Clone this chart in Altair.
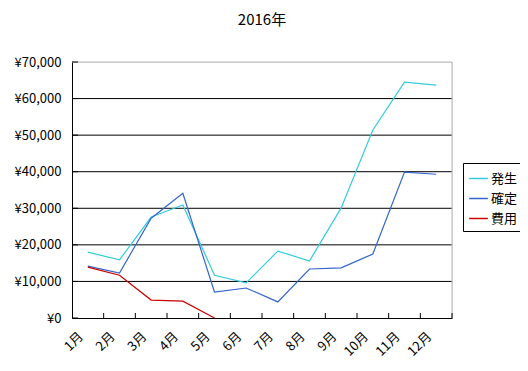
import altair as alt
import pandas as pd

months = ["1月", "2月", "3月", "4月", "5月", "6月", "7月", "8月", "9月", "10月", "11月", "12月"]
series_names = ["発生", "確定", "費用"]
hassei = [18000, 15900, 27600, 30900, 11700, 9600, 18300, 15600, 30100, 51400, 64500, 63700]
kakutei = [14200, 12300, 27300, 34100, 7100, 8200, 4400, 13400, 13700, 17500, 39900, 39300]
hiyou = [13900, 11700, 4900, 4600, 0]
colors = ["#33CCDD", "#3366CC", "#CC0000"]
y_ticks = [0, 10000, 20000, 30000, 40000, 50000, 60000, 70000]
grid_vals = [10000, 20000, 30000, 40000, 50000, 60000]
boundaries = list(range(13))

rows = []
for name, vals in zip(series_names, [hassei, kakutei, hiyou]):
    for i, v in enumerate(vals):
        rows.append({"series": name, "pos": i + 0.5, "month": months[i], "value": v})
df = pd.DataFrame(rows)

W, H = 380, 256
FONT = "Noto Sans CJK JP"

xscale = alt.Scale(domain=[0, 12], nice=False, zero=False)
yscale = alt.Scale(domain=[0, 70000], nice=False)

month_expr = "datum.value >= 1 ? ['1月','2月','3月','4月','5月','6月','7月','8月','9月','10月','11月','12月'][datum.value - 1] : ''"

xaxis = alt.Axis(values=boundaries, labelExpr=month_expr, labelAngle=-45, labelAlign="right",
                 labelBaseline="middle", labelOffset=-23, labelPadding=16, ticks=False, grid=False,
                 domainColor="black", labelFont=FONT, labelFontSize=13, labelColor="black", title=None,
                 labelOverlap=False, labelBound=False)
yaxis = alt.Axis(values=y_ticks, labelExpr="'¥' + format(datum.value, ',')", ticks=False, grid=False,
                 domainColor="black", labelFont=FONT, labelFontSize=13, labelColor="black",
                 labelPadding=11, title=None, labelOverlap=False, labelBound=False)

grid = alt.Chart(pd.DataFrame({"g": grid_vals})).mark_rule(color="black", strokeWidth=1).encode(
    y=alt.Y("g:Q", scale=yscale, axis=yaxis)
)
topborder = alt.Chart(pd.DataFrame({"g": [70000]})).mark_rule(color="#BBBBBB", strokeWidth=1).encode(
    y=alt.Y("g:Q", scale=yscale, axis=yaxis)
)
rightborder = alt.Chart(pd.DataFrame({"b": [12]})).mark_rule(color="#BBBBBB", strokeWidth=1).encode(
    x=alt.X("b:Q", scale=xscale, axis=xaxis)
)
xticks = alt.Chart(pd.DataFrame({"b": boundaries[1:]})).mark_rule(color="black", strokeWidth=1).encode(
    x=alt.X("b:Q", scale=xscale, axis=xaxis), y=alt.value(H), y2=alt.value(H - 5)
)
yticks = alt.Chart(pd.DataFrame({"g": y_ticks})).mark_rule(color="black", strokeWidth=1).encode(
    y=alt.Y("g:Q", scale=yscale, axis=yaxis), x=alt.value(0), x2=alt.value(6)
)

lines = alt.Chart(df).mark_line(strokeWidth=1.2).encode(
    x=alt.X("pos:Q", scale=xscale, axis=xaxis),
    y=alt.Y("value:Q", scale=yscale, axis=yaxis),
    color=alt.Color("series:N", scale=alt.Scale(domain=series_names, range=colors),
                    legend=alt.Legend(orient="none", legendX=391, legendY=101, title=None,
                                      strokeColor="black", padding=5, symbolType="stroke",
                                      symbolStrokeWidth=1.5, symbolSize=350, labelFont=FONT,
                                      labelFontSize=13, labelColor="black", rowPadding=2,
                                      symbolOffset=0, labelOffset=2)),
    detail="series:N",
    order="pos:Q",
)

chart = alt.layer(grid, topborder, rightborder, xticks, yticks, lines).properties(
    width=W, height=H,
    title=alt.Title("2016年", font=FONT, fontSize=15, fontWeight="normal", color="black", offset=28),
    autosize=alt.AutoSizeParams(type="none"),
    padding={"left": 64, "top": 54, "right": 68, "bottom": 45},
).configure_view(stroke=None).configure_axis(labelOverlap=False, labelBound=False).configure(background="white")

chart.save("out.html", embed_options={"renderer": "svg", "actions": False})
